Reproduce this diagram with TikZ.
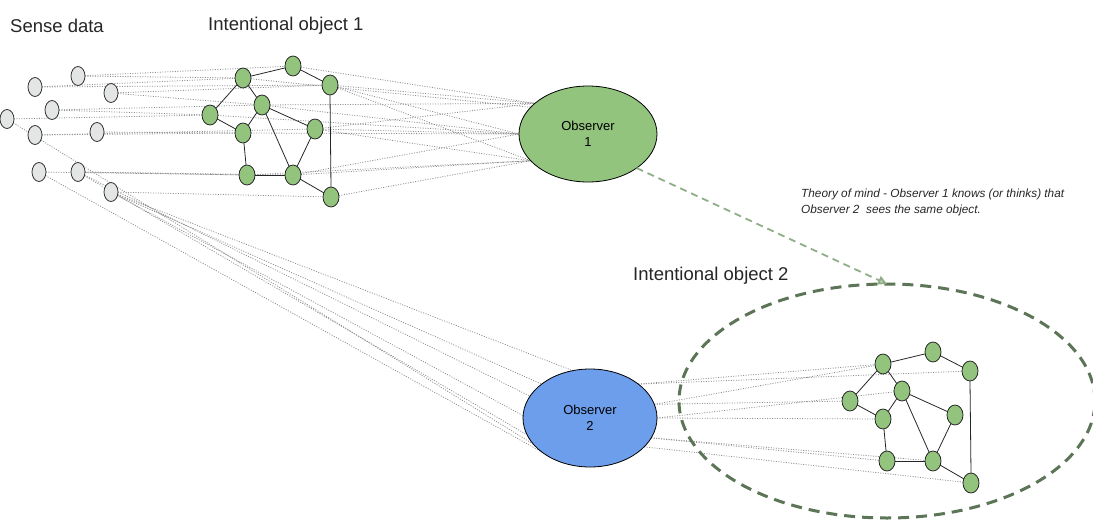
\documentclass[tikz,border=0pt]{standalone}
\usepackage{fontspec}
\setmainfont{Liberation Sans}
\usetikzlibrary{shapes.geometric,arrows.meta,backgrounds}
\definecolor{gfill}{HTML}{93C47D}
\definecolor{bfill}{HTML}{6D9EEB}
\definecolor{sfill}{HTML}{E4E6E6}
\definecolor{dotc}{HTML}{8E8E8E}
\definecolor{darkdash}{HTML}{5B7556}
\definecolor{arrowc}{HTML}{8DAE86}
\tikzset{
  sense/.style={ellipse,draw=black!80,line width=0.8pt,fill=sfill,minimum width=14pt,minimum height=19pt,inner sep=0pt,outer sep=0pt},
  gnode/.style={ellipse,draw=black!85,line width=0.8pt,fill=gfill,minimum width=16pt,minimum height=20pt,inner sep=0pt,outer sep=0pt},
  observer/.style={ellipse,draw=black,line width=0.8pt,inner sep=0pt,outer sep=0pt,align=center,font=\fontsize{13}{16}\selectfont},
  gedge/.style={draw=black!85,line width=0.8pt},
  ray/.style={draw=dotc,line width=0.8pt,dash pattern=on 1pt off 1.5pt},
  title/.style={anchor=west,inner sep=0pt,font=\fontsize{18.5}{21}\selectfont,text=black!85},
  note/.style={anchor=north west,inner sep=0pt,align=left,font=\fontsize{11.8}{16}\selectfont\itshape,text=black!85},
  tomarrow/.style={draw=arrowc,line width=1.8pt,dash pattern=on 7pt off 5pt,-{Triangle[length=9pt,width=9pt,open,fill=arrowc!60]}},
  boundary/.style={ellipse,draw=darkdash,line width=3pt,dash pattern=on 11pt off 7pt,minimum width=416pt,minimum height=234pt,inner sep=0pt,outer sep=0pt}
}
\begin{document}
\begin{tikzpicture}[x=1pt,y=-1pt]
\useasboundingbox (0,0) rectangle (1093,525);
% titles
\node[title] (tsense) at (10,26) {Sense data};
\node[title] (tio1) at (208,26) {Intentional object 1};
\node[title] (tio2) at (633,276) {Intentional object 2};
\node[note] (tom) at (801,189) {Theory of mind - Observer 1 knows (or thinks) that\\Observer 2\ \ sees the same object.};
% sense data
\node[sense] (s1) at (78,76) {};
\node[sense] (s2) at (35,87) {};
\node[sense] (s3) at (111,93) {};
\node[sense] (s4) at (52,110) {};
\node[sense] (s5) at (7,119) {};
\node[sense] (s6) at (35,135) {};
\node[sense] (s7) at (97,132) {};
\node[sense] (s8) at (39,172) {};
\node[sense] (s9) at (78,172) {};
\node[sense] (s10) at (111,192) {};
% intentional object 1
\node[gnode] (a1) at (243,78) {};
\node[gnode] (b1) at (293,66) {};
\node[gnode] (c1) at (330,85) {};
\node[gnode] (d1) at (210,115) {};
\node[gnode] (e1) at (262,105) {};
\node[gnode] (f1) at (243,133) {};
\node[gnode] (g1) at (315,129) {};
\node[gnode] (h1) at (247,175) {};
\node[gnode] (i1) at (293,175) {};
\node[gnode] (j1) at (331,197) {};
% intentional object 2 (same graph shifted)
\node[gnode] (a2) at (883,364) {};
\node[gnode] (b2) at (933,352) {};
\node[gnode] (c2) at (970,371) {};
\node[gnode] (d2) at (850,401) {};
\node[gnode] (e2) at (902,391) {};
\node[gnode] (f2) at (883,419) {};
\node[gnode] (g2) at (955,415) {};
\node[gnode] (h2) at (887,461) {};
\node[gnode] (i2) at (933,461) {};
\node[gnode] (j2) at (971,483) {};
% observers
\node[observer,fill=gfill,minimum width=138pt,minimum height=96pt] (obs1) at (588,134) {Observer\\1};
\node[observer,fill=bfill,minimum width=134pt,minimum height=98pt] (obs2) at (590,418) {Observer\\2};
% boundary of intentional object 2
\node[boundary] (io2) at (887,401) {};
% graph edges
\foreach \k in {1,2}{
  \draw[gedge] (a\k) -- (b\k);
  \draw[gedge] (b\k) -- (c\k);
  \draw[gedge] (a\k) -- (d\k);
  \draw[gedge] (a\k) -- (e\k);
  \draw[gedge] (d\k) -- (f\k);
  \draw[gedge] (e\k) -- (f\k);
  \draw[gedge] (e\k) -- (g\k);
  \draw[gedge] (e\k) -- (i\k);
  \draw[gedge] (f\k) -- (h\k);
  \draw[gedge] (h\k) -- (i\k);
  \draw[gedge] (g\k) -- (i\k);
  \draw[gedge] (i\k) -- (j\k);
  \draw[gedge] (c\k.south) -- (j\k.north);
}
% theory of mind arrow
\draw[tomarrow] (obs1.-35) -- (io2.north);
% dotted rays
\begin{pgfonlayer}{background}
  % sense data -> intentional object 1
  \draw[ray] (s1) -- (b1);
  \draw[ray] (s1) -- (a1);
  \draw[ray] (s2) -- (a1);
  \draw[ray] (s2) -- (c1);
  \draw[ray] (s3) -- (e1);
  \draw[ray] (s3) -- (c1);
  \draw[ray] (s4) -- (d1);
  \draw[ray] (s4) -- (e1);
  \draw[ray] (s5) -- (d1);
  \draw[ray] (s6) -- (g1);
  \draw[ray] (s6) -- (f1);
  \draw[ray] (s7) -- (f1);
  \draw[ray] (s8) -- (h1);
  \draw[ray] (s9) -- (h1);
  \draw[ray] (s9) -- (i1);
  \draw[ray] (s10) -- (j1);
  % intentional object 1 -> observer 1
  \draw[ray] (a1) -- (obs1.155);
  \draw[ray] (b1) -- (obs1.150);
  \draw[ray] (c1) -- (obs1.150);
  \draw[ray] (c1) -- (obs1.180);
  \draw[ray] (c1) -- (obs1.205);
  \draw[ray] (e1) -- (obs1.150);
  \draw[ray] (e1) -- (obs1.180);
  \draw[ray] (d1) -- (obs1.180);
  \draw[ray] (f1) -- (obs1.180);
  \draw[ray] (g1) -- (obs1.180);
  \draw[ray] (g1) -- (obs1.150);
  \draw[ray] (g1) -- (obs1.205);
  \draw[ray] (h1) -- (obs1.205);
  \draw[ray] (i1) -- (obs1.180);
  \draw[ray] (i1) -- (obs1.205);
  \draw[ray] (j1) -- (obs1.205);
  % sense data -> observer 2
  \draw[ray] (s5) -- (obs2.205);
  \draw[ray] (s8) -- (obs2.215);
  \draw[ray] (s9) -- (obs2.160);
  \draw[ray] (s9) -- (obs2.195);
  \draw[ray] (s10) -- (obs2.110);
  \draw[ray] (s10) -- (obs2.145);
  \draw[ray] (s10) -- (obs2.178);
  % observer 2 -> intentional object 2
  \draw[ray] (obs2.35) -- (a2);
  \draw[ray] (obs2.35) -- (c2);
  \draw[ray] (obs2.12) -- (a2);
  \draw[ray] (obs2.12) -- (d2);
  \draw[ray] (obs2.0) -- (f2);
  \draw[ray] (obs2.0) -- (e2);
  \draw[ray] (obs2.-18) -- (h2);
  \draw[ray] (obs2.-18) -- (i2);
  \draw[ray] (obs2.-28) -- (j2);
\end{pgfonlayer}
\end{tikzpicture}
\end{document}
